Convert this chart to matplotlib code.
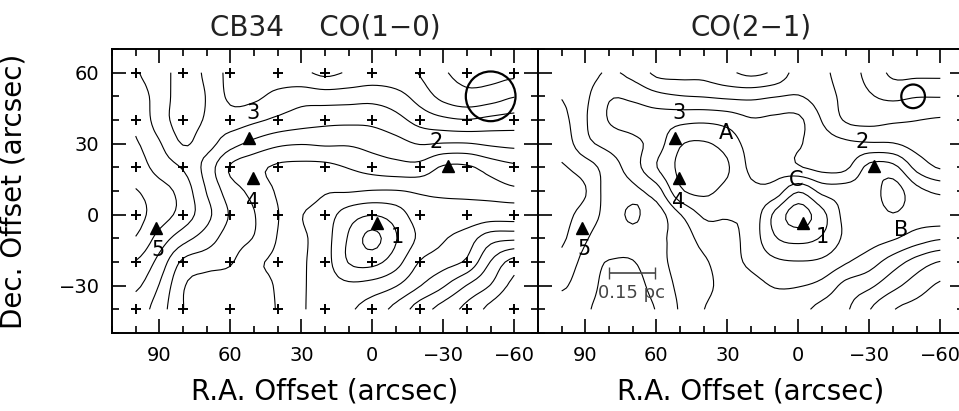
import numpy as np
import matplotlib
matplotlib.use("Agg")
import matplotlib.pyplot as plt
from matplotlib.ticker import MultipleLocator
from matplotlib.patches import Circle

# map grid, offsets in arcsec
ra = [100, 90, 80, 70, 60, 50, 40, 30, 20, 10, 0, -10, -20, -30, -40, -50, -60]
dec = [60, 50, 40, 30, 20, 10, 0, -10, -20, -30, -40]

# CO(1-0) integrated intensity, arbitrary units (rows = dec, cols = ra)
co10 = [
    [2.45, 3.0, 3.9, 3.3, 2.2, 2.0, 1.9, 1.7, 1.3, 1.6, 1.9, 1.8, 1.45, 0.6, 0.3, 0.2, 0.3],
    [2.1, 2.9, 4.0, 3.45, 2.3, 2.3, 2.8, 3.1, 3.0, 3.06, 3.14, 2.86, 2.1, 1.2, 0.8, 1.0, 1.45],
    [1.7, 3.0, 3.9, 3.4, 3.0, 3.3, 3.7, 4.0, 4.2, 4.25, 4.23, 3.83, 3.13, 2.73, 2.55, 2.79, 2.94],
    [1.4, 2.4, 3.55, 3.2, 4.1, 4.8, 5.3, 5.45, 5.36, 5.39, 5.15, 4.86, 4.45, 4.55, 4.55, 4.33, 4.21],
    [1.0, 1.9, 2.6, 3.85, 5.6, 6.2, 6.65, 6.75, 6.76, 6.45, 6.1, 5.88, 5.86, 6.63, 6.65, 6.1, 5.72],
    [0.45, 1.1, 1.9, 3.55, 5.0, 5.8, 6.6, 6.85, 7.4, 7.42, 7.55, 7.55, 7.37, 7.25, 7.15, 6.96, 6.7],
    [0.2, 1.0, 1.9, 3.2, 4.6, 5.45, 6.45, 7.45, 8.0, 9.0, 9.45, 9.0, 8.0, 8.0, 8.0, 7.9, 7.9],
    [0.55, 1.9, 3.1, 4.0, 5.0, 5.55, 6.55, 7.3, 8.1, 9.6, 10.8, 9.55, 8.3, 7.6, 7.0, 5.9, 5.7],
    [1.55, 2.85, 4.7, 5.1, 5.4, 6.3, 6.7, 7.35, 8.1, 9.55, 9.8, 8.9, 7.45, 6.9, 6.3, 4.45, 3.1],
    [2.3, 3.55, 5.4, 5.9, 6.0, 6.2, 6.6, 7.35, 8.0, 8.3, 8.1, 7.55, 6.55, 5.6, 4.45, 3.45, 2.2],
    [3.0, 4.0, 5.48, 5.9, 6.0, 6.2, 6.55, 7.35, 8.0, 7.65, 7.0, 6.2, 5.0, 4.1, 3.2, 2.2, 1.45],
]

# CO(2-1)
co21 = [
    [3.0, 3.1, 3.6, 3.2, 2.3, 2.2, 2.2, 1.7, 1.3, 1.7, 2.9, 2.7, 2.0, 1.2, 0.3, 0.3, 0.3],
    [2.55, 3.3, 4.4, 4.3, 3.8, 3.55, 3.45, 3.3, 3.25, 3.45, 3.55, 3.0, 2.2, 1.6, 1.3, 1.45, 1.45],
    [2.2, 3.4, 4.55, 4.9, 5.0, 5.2, 5.3, 5.1, 4.6, 4.7, 4.7, 3.45, 2.4, 2.2, 2.35, 2.48, 2.6],
    [1.9, 3.2, 3.8, 4.2, 5.0, 6.4, 6.6, 6.1, 5.1, 5.0, 4.6, 4.0, 3.7, 3.6, 3.55, 3.1, 3.0],
    [1.4, 2.0, 3.0, 4.0, 5.45, 6.7, 7.0, 6.6, 5.3, 5.2, 4.6, 4.2, 4.3, 5.8, 5.8, 4.2, 3.4],
    [1.1, 1.45, 3.0, 3.3, 4.0, 6.3, 6.7, 6.2, 5.7, 5.9, 7.4, 6.2, 6.0, 6.0, 6.9, 5.8, 5.3],
    [1.2, 1.9, 2.9, 3.65, 3.1, 4.45, 5.65, 5.6, 5.8, 7.7, 9.0, 7.8, 6.2, 6.0, 6.45, 6.0, 6.0],
    [1.35, 2.4, 3.0, 3.1, 3.35, 3.8, 4.9, 5.2, 5.9, 7.4, 7.8, 7.4, 6.3, 5.9, 5.6, 5.0, 4.6],
    [1.8, 2.75, 2.45, 2.45, 3.2, 3.8, 4.35, 5.1, 5.7, 6.3, 6.45, 6.3, 5.6, 4.95, 4.0, 3.1, 2.45],
    [2.35, 2.9, 2.1, 2.1, 2.9, 3.7, 4.2, 4.9, 5.2, 5.55, 5.55, 5.2, 4.2, 3.7, 2.8, 2.0, 1.35],
    [3.0, 2.65, 2.0, 2.0, 2.55, 3.6, 4.48, 5.0, 5.2, 5.2, 4.8, 4.2, 3.65, 2.55, 1.55, 1.2, 1.0],
]

# observed positions of the CO(1-0) map
obs_ra = [100, 80, 60, 40, 20, 0, -20, -40, -60]
obs_dec = [60, 40, 20, 0, -20, -40]

# sources 1..5
src_ra = [-2, -32, 52, 50.5, 91.5]
src_dec = [-3.5, 20.5, 32.5, 15.5, -5.5]

labels_10 = [("1", -10.5, -9.5), ("2", -27, 30.5), ("3", 50.5, 43), ("4", 50.5, 5.5), ("5", 90.5, -15)]
labels_21 = [("1", -10, -9.5), ("2", -27, 30.5), ("3", 50.5, 43), ("4", 50.5, 5.5), ("5", 90.5, -14.5),
             ("A", 30.5, 34.5), ("B", -43.5, -6.5), ("C", 1, 14.5)]


def cr_resample(a, f, axis):
    # Catmull-Rom resampling along one axis (smooth contours like the map software)
    n = a.shape[axis]
    t = np.linspace(0, n - 1, (n - 1) * f + 1)
    i = np.clip(np.floor(t).astype(int), 0, n - 2)
    s = t - i
    shp = [1, 1]
    shp[axis] = -1
    s = s.reshape(shp)
    p0 = np.take(a, np.clip(i - 1, 0, n - 1), axis=axis)
    p1 = np.take(a, i, axis=axis)
    p2 = np.take(a, np.clip(i + 1, 0, n - 1), axis=axis)
    p3 = np.take(a, np.clip(i + 2, 0, n - 1), axis=axis)
    return 0.5 * (2 * p1 + (p2 - p0) * s + (2 * p0 - 5 * p1 + 4 * p2 - p3) * s ** 2
                  + (3 * p1 - p0 - 3 * p2 + p3) * s ** 3)


F = 5
xs = np.linspace(ra[0], ra[-1], (len(ra) - 1) * F + 1)
ys = np.linspace(dec[0], dec[-1], (len(dec) - 1) * F + 1)
X, Y = np.meshgrid(xs, ys)

fig = plt.figure(figsize=(9.59, 4.11), dpi=100)
ax1 = fig.add_axes([112 / 959, 78 / 411, 426 / 959, 284 / 411])
ax2 = fig.add_axes([538 / 959, 78 / 411, 426 / 959, 284 / 411])


def setup(ax):
    ax.set_xlim(110, -70)
    ax.set_ylim(-50, 70)
    ax.xaxis.set_major_locator(MultipleLocator(30))
    ax.xaxis.set_minor_locator(MultipleLocator(10))
    ax.yaxis.set_major_locator(MultipleLocator(30))
    ax.yaxis.set_minor_locator(MultipleLocator(10))
    ax.tick_params(which="both", direction="in", top=True, right=True, width=1.2, labelsize=14, pad=9)
    ax.tick_params(which="major", length=10)
    ax.tick_params(which="minor", length=5)
    for s in ax.spines.values():
        s.set_linewidth(1.4)
    ax.set_xlabel("R.A. Offset (arcsec)", fontsize=20, labelpad=9)


for ax, z, labs, beam, bx in [(ax1, co10, labels_10, 10.5, -50), (ax2, co21, labels_21, 5, -48.5)]:
    zz = cr_resample(cr_resample(np.array(z), F, 0), F, 1)
    ax.contour(X, Y, zz, levels=np.arange(0.5, 11, 1.0), colors="k", linewidths=0.8)
    ax.plot(src_ra, src_dec, "^", color="k", markersize=9)
    for t, xx, yy in labs:
        ax.text(xx, yy, t, fontsize=15, ha="center", va="center")
    ax.add_patch(Circle((bx, 50), beam, fill=False, lw=1.6, color="k"))
    setup(ax)

ox, oy = np.meshgrid(obs_ra, obs_dec)
ax1.plot(ox.ravel(), oy.ravel(), "+", color="k", markersize=7, markeredgewidth=1.4)

ax1.set_ylabel("Dec. Offset (arcsec)", fontsize=20)
ax1.yaxis.set_label_coords(-0.198, 0.5)
ax2.tick_params(labelleft=False)

# 0.15 pc scale bar
ax2.errorbar([70.3], [-24.8], xerr=[[9.9], [9.9]], fmt="none", ecolor="#444444", elinewidth=1.2, capsize=4)
ax2.text(70.5, -33, "0.15 pc", fontsize=13, color="#444444", ha="center", va="center")

ax1.set_title("CB34    CO(1\u22120)", fontsize=20, pad=10, color="#222222")
ax2.set_title("CO(2\u22121)", fontsize=20, pad=10, color="#222222")

fig.savefig("out.png", dpi=100)
